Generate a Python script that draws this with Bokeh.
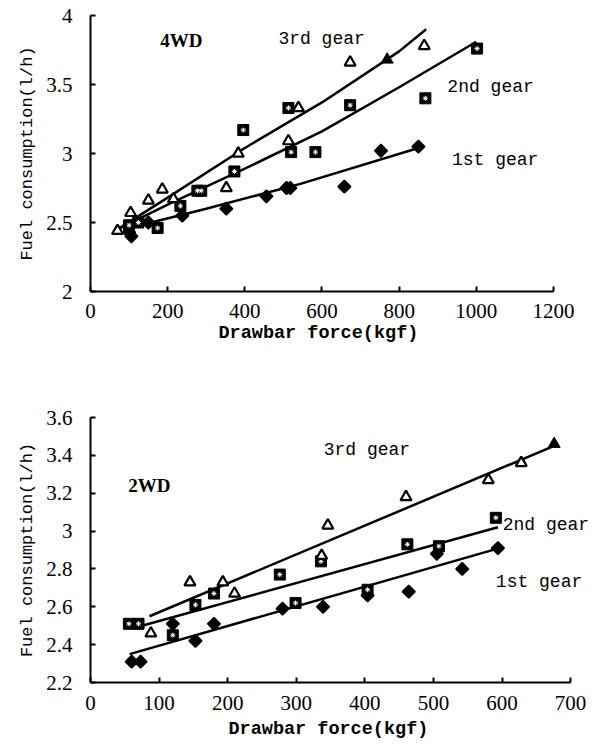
import math
from bokeh.plotting import figure
from bokeh.layouts import column
from bokeh.models import Range1d, FixedTicker, CustomJSTickFormatter, Label, Title
from bokeh.embed import file_html
from bokeh.resources import INLINE

# ---------------- 4WD data ----------------
w4_g3_x = [70, 104, 150, 186, 215, 352, 383, 513, 539, 673, 865]
w4_g3_y = [2.44, 2.57, 2.66, 2.74, 2.67, 2.75, 3.00, 3.09, 3.33, 3.66, 3.78]
w4_g3f_x = [769]
w4_g3f_y = [3.68]
w4_g2_x = [100, 124, 174, 233, 277, 287, 373, 396, 513, 520, 583, 673, 868, 1002]
w4_g2_y = [2.48, 2.50, 2.46, 2.62, 2.73, 2.73, 2.87, 3.17, 3.33, 3.01, 3.01, 3.35, 3.40, 3.76]
w4_g1_x = [100, 106, 150, 238, 352, 456, 508, 518, 658, 753, 850]
w4_g1_y = [2.43, 2.40, 2.50, 2.55, 2.60, 2.69, 2.75, 2.75, 2.76, 3.02, 3.05]
# fitted curves
w4_l3_x = [70, 200, 400, 600, 800, 870]
w4_l3_y = [2.45, 2.68, 3.04, 3.37, 3.74, 3.90]
w4_l2_x = [70, 200, 400, 600, 800, 1000]
w4_l2_y = [2.45, 2.63, 2.89, 3.16, 3.48, 3.81]
w4_l1_x = [100, 300, 544, 850]
w4_l1_y = [2.46, 2.60, 2.78, 3.04]
w4_xticks = [0, 200, 400, 600, 800, 1000, 1200]
w4_yticks = [2, 2.5, 3, 3.5, 4]

# ---------------- 2WD data ----------------
w2_g3_x = [88, 145, 193, 210, 337, 346, 460, 580, 628]
w2_g3_y = [2.46, 2.73, 2.73, 2.67, 2.87, 3.03, 3.18, 3.27, 3.36]
w2_g3f_x = [676]
w2_g3f_y = [3.46]
w2_g2_x = [56, 70, 120, 153, 180, 276, 299, 336, 404, 462, 508, 591]
w2_g2_y = [2.51, 2.51, 2.45, 2.61, 2.67, 2.77, 2.62, 2.84, 2.69, 2.93, 2.92, 3.07]
w2_g1_x = [60, 73, 120, 153, 180, 280, 339, 404, 464, 505, 542, 594]
w2_g1_y = [2.31, 2.31, 2.51, 2.42, 2.51, 2.59, 2.60, 2.66, 2.68, 2.88, 2.80, 2.91]
w2_l3_x = [86, 676]
w2_l3_y = [2.55, 3.45]
w2_l2_x = [75, 594]
w2_l2_y = [2.50, 3.02]
w2_l1_x = [57, 596]
w2_l1_y = [2.35, 2.91]
w2_xticks = [0, 100, 200, 300, 400, 500, 600, 700]
w2_yticks = [2.2, 2.4, 2.6, 2.8, 3.0, 3.2, 3.4, 3.6]

x_label = "Drawbar force(kgf)"
y_label = "Fuel consumption(l/h)"

TICK_FONT = "Liberation Serif"
MONO = "Liberation Mono"


def make_fig(width, height, xr, yr, xticks, yticks, mb):
    p = figure(width=width, height=height, x_range=Range1d(*xr), y_range=Range1d(*yr),
               output_backend="svg", toolbar_location=None,
               min_border_left=mb[0], min_border_right=mb[1],
               min_border_top=mb[2], min_border_bottom=mb[3])
    p.outline_line_color = None
    p.xgrid.visible = False
    p.ygrid.visible = False
    p.xaxis.ticker = FixedTicker(ticks=xticks)
    p.yaxis.ticker = FixedTicker(ticks=yticks)
    fmt = "return (Math.round(tick*10)/10).toString();"
    p.yaxis.formatter = CustomJSTickFormatter(code=fmt)
    p.xaxis.formatter = CustomJSTickFormatter(code=fmt)
    for ax in (p.xaxis, p.yaxis):
        ax.axis_line_width = 2
        ax.axis_line_color = "black"
        ax.major_tick_line_width = 2
        ax.major_tick_in = 5
        ax.major_tick_out = 0
        ax.minor_tick_line_color = None
        ax.major_label_text_font = TICK_FONT
        ax.major_label_text_font_size = "21px"
        ax.major_label_text_color = "black"
    p.yaxis.axis_label = y_label
    p.yaxis.axis_label_text_font = MONO
    p.yaxis.axis_label_text_font_style = "normal"
    p.yaxis.axis_label_text_color = "black"
    p.yaxis.axis_label_text_font_size = "17px"
    p.yaxis.major_label_standoff = 18
    p.yaxis.axis_label_standoff = 6
    p.xaxis.major_label_standoff = 12
    return p


def x_title(p, offset, standoff):
    p.add_layout(Title(text=x_label, align="left", offset=offset, standoff=standoff,
                       text_font=MONO, text_font_style="bold", text_font_size="18.5px",
                       text_color="black"), "below")


def draw_series(p, g3x, g3y, g3fx, g3fy, g2x, g2y, g1x, g1y, lines):
    for lx, ly in lines:
        p.line(lx, ly, line_color="black", line_width=2.5)
    p.scatter(g1x, g1y, marker="square", angle=math.pi / 4, size=9,
              fill_color="black", line_color="black", line_width=1.5)
    p.scatter(g2x, g2y, marker="square", size=11, fill_color="black", line_color="black")
    p.scatter(g2x, g2y, marker="asterisk", size=5, line_color="white", line_width=1)
    p.scatter(g3x, g3y, marker="triangle", size=11, fill_color="white", line_color="black", line_width=2.2)
    p.scatter(g3fx, g3fy, marker="triangle", size=12, fill_color="black", line_color="black")


def label(p, x, y, txt, bold=False, font=MONO, size="18px"):
    p.add_layout(Label(x=x, y=y, x_units="data", y_units="data", text=txt,
                       text_font=font, text_font_size=size,
                       text_font_style="bold" if bold else "normal",
                       text_baseline="middle", text_align="left", text_color="black"))


# The plotting areas run a little past the last tick so that the right-hand
# labels are not clipped; the axis lines stop at the last tick (axis bounds).

# ---------- top: 4WD ----------
p1 = make_fig(596, 350, (0, 1296), (2, 4), w4_xticks, w4_yticks, (90, 6, 15, 59))
p1.xaxis.bounds = (0, 1200)
x_title(p1, 128, 0)
draw_series(p1, w4_g3_x, w4_g3_y, w4_g3f_x, w4_g3f_y, w4_g2_x, w4_g2_y, w4_g1_x, w4_g1_y,
            [(w4_l3_x, w4_l3_y), (w4_l2_x, w4_l2_y), (w4_l1_x, w4_l1_y)])
label(p1, 181, 3.82, "4WD", bold=True, font="Liberation Serif", size="19px")
label(p1, 487, 3.83, "3rd gear")
label(p1, 925, 3.48, "2nd gear")
label(p1, 937, 2.95, "1st gear")

# ---------- bottom: 2WD ----------
p2 = make_fig(596, 399, (0, 729), (2.2, 3.6), w2_xticks, w2_yticks, (90, 6, 67, 67))
p2.xaxis.bounds = (0, 700)
p2.xaxis.major_label_standoff = 13
x_title(p2, 138, 8)
draw_series(p2, w2_g3_x, w2_g3_y, w2_g3f_x, w2_g3f_y, w2_g2_x, w2_g2_y, w2_g1_x, w2_g1_y,
            [(w2_l3_x, w2_l3_y), (w2_l2_x, w2_l2_y), (w2_l1_x, w2_l1_y)])
label(p2, 55, 3.24, "2WD", bold=True, font="Liberation Serif", size="19px")
label(p2, 340, 3.43, "3rd gear")
label(p2, 601, 3.03, "2nd gear")
label(p2, 591, 2.73, "1st gear")

layout = column(p1, p2, spacing=0)
open("out.html", "w").write(file_html(layout, INLINE))
